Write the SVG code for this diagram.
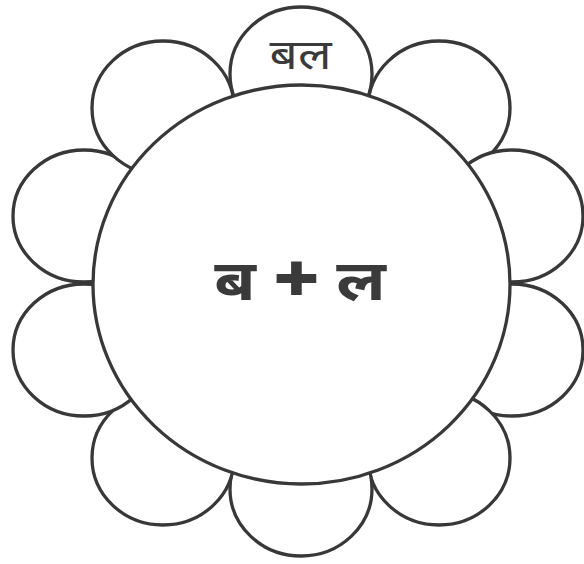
<svg xmlns="http://www.w3.org/2000/svg" width="584" height="564" viewBox="0 0 584 564">
<style>
.petal{fill:#fff;stroke:#383838;stroke-width:3.3}
.core{fill:#fff;stroke:#383838;stroke-width:3.3}
.lbl{font-family:"Noto Sans","Noto Sans Devanagari","Lohit Devanagari",sans-serif;fill:#3a3a3a;text-anchor:middle}
</style>
<rect width="584" height="564" fill="#fff"/>
<g id="petals">
<g id="petal-top"><ellipse class="petal" cx="301" cy="74" rx="71" ry="67"/><text class="lbl" transform="scale(1.18,1)" x="254.7" y="69" font-size="42">बल</text></g>
<g id="petal-ur"><ellipse class="petal" cx="439" cy="108" rx="71" ry="67"/></g>
<g id="petal-ru"><ellipse class="petal" cx="512" cy="216" rx="71" ry="66"/></g>
<g id="petal-rl"><ellipse class="petal" cx="512" cy="350" rx="71" ry="66"/></g>
<g id="petal-lr"><ellipse class="petal" cx="439" cy="458" rx="71" ry="67"/></g>
<g id="petal-bottom"><ellipse class="petal" cx="301" cy="489" rx="71" ry="67"/></g>
<g id="petal-ll"><ellipse class="petal" cx="163" cy="458" rx="71" ry="67"/></g>
<g id="petal-lb"><ellipse class="petal" cx="84" cy="350" rx="71" ry="66"/></g>
<g id="petal-lu"><ellipse class="petal" cx="84" cy="216" rx="71" ry="66"/></g>
<g id="petal-ul"><ellipse class="petal" cx="163" cy="108" rx="71" ry="67"/></g>
</g>
<g id="center">
<ellipse class="core" cx="301.5" cy="284.5" rx="208.5" ry="199.5"/>
<text class="lbl" transform="scale(1.2,1)" y="300" font-size="56" font-weight="bold"><tspan x="195.8">ब</tspan><tspan x="247.1" y="301" font-size="64" stroke="#3a3a3a" stroke-width="2">+</tspan><tspan x="300.8" y="300">ल</tspan></text>
</g>
<g id="connectors"/>
</svg>
